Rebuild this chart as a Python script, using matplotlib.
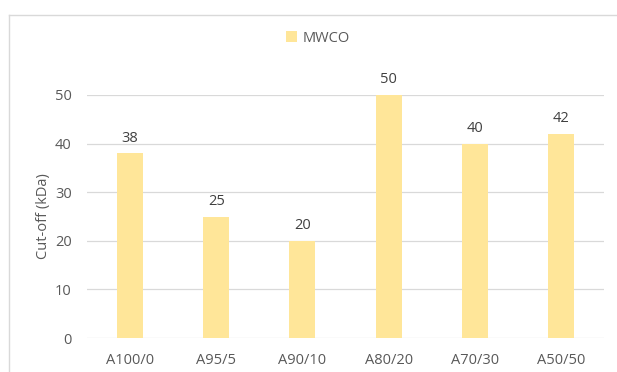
import matplotlib
matplotlib.use("Agg")
import matplotlib.pyplot as plt
from matplotlib.lines import Line2D

categories = ["A100/0", "A95/5", "A90/10", "A80/20", "A70/30", "A50/50"]
mwco = [38, 25, 20, 50, 40, 42]
yticks = [0, 10, 20, 30, 40, 50]

plt.rcParams['font.family'] = ['Open Sans', 'DejaVu Sans']
txt = '#595959'
bar_color = '#FFE699'

fig = plt.figure(figsize=(6.17, 3.72), dpi=100)
W, H = 617, 372
ax = fig.add_axes([87/W, 1-338/H, (604-87)/W, (338-95)/H])

x = list(range(len(categories)))
bars = ax.bar(x, mwco, width=0.3, color=bar_color, label='MWCO', zorder=3)
for xi, v in zip(x, mwco):
    ax.text(xi, v + 1.6, str(v), ha='center', va='bottom', fontsize=10.5, color='#404040', clip_on=False)

ax.set_xlim(-0.5, len(categories) - 0.5)
ax.set_ylim(0, 50)
ax.set_yticks(yticks)
ax.set_xticks(x)
ax.set_xticklabels(categories)
ax.tick_params(axis='both', length=0, labelsize=10.5, colors=txt)
ax.tick_params(axis='y', pad=11)
ax.tick_params(axis='x', pad=11)
ax.grid(axis='y', color='#d9d9d9', linewidth=0.9, zorder=0)
for s in ax.spines.values():
    s.set_visible(False)
ax.set_ylabel('Cut-off (kDa)', fontsize=10.5, color=txt, labelpad=3)

leg = fig.legend(handles=[bars], labels=['MWCO'], loc='center', bbox_to_anchor=(318/W, 1-38/H),
                 frameon=False, fontsize=10.5, handlelength=0.7, handleheight=0.7, handletextpad=0.4)
for t in leg.get_texts():
    t.set_color(txt)

# outer chart border
fig.add_artist(Line2D([9/W, 9/W], [0, 1-15/H], transform=fig.transFigure, color='#d9d9d9', linewidth=1))
fig.add_artist(Line2D([9/W, 1], [1-15/H, 1-15/H], transform=fig.transFigure, color='#d9d9d9', linewidth=1))

fig.savefig('out.png', dpi=100)
